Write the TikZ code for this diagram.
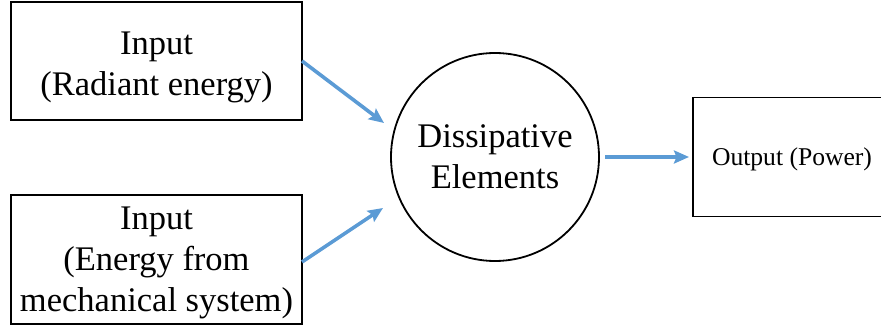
\documentclass[tikz,border=0pt]{standalone}
\usepackage{fontspec}
\setmainfont{Liberation Serif}
\usetikzlibrary{arrows.meta,positioning}
\definecolor{flowblue}{RGB}{91,155,213}
\tikzset{
  block/.style={draw=black, line width=1.8pt, rectangle, inner sep=0pt, outer sep=0pt},
  lbl/.style={align=center, inner sep=0pt, font=\fontsize{34.5pt}{41pt}\selectfont},
  smalllbl/.style={inner sep=0pt, font=\fontsize{25.6pt}{30pt}\selectfont},
  flow/.style={draw=flowblue, line width=3.6pt,
    -{Stealth[length=15pt, width=13pt, inset=2.5pt]}}
}
\begin{document}
\begin{tikzpicture}[x=1pt, y=1pt]
  \clip (0,0) rectangle (881,326);
  \fill[white] (0,0) rectangle (881,326);

  % input boxes
  \node[block, minimum width=291pt, minimum height=118pt] (radiant) at (156.5,265) {};
  \node[lbl] (radianttext) at ([yshift=-6pt]radiant.center) {Input\\(Radiant energy)};

  \node[block, minimum width=291pt, minimum height=129pt] (mech) at (156.5,66.5) {};
  \node[lbl] (mechtext) at ([yshift=-3.5pt]mech.center) {Input\\(Energy from\\mechanical system)};

  % dissipative element
  \node[circle, draw=black, line width=1.8pt, minimum size=208pt, inner sep=0pt, outer sep=0pt,
        lbl] (diss) at (495,169) {Dissipative\\Elements};

  % output box (runs past the right edge)
  \node[block, minimum width=198pt, minimum height=119pt] (out) at (792,169) {};
  \node[smalllbl] (outtext) at ([yshift=-2pt]out.center) {Output (Power)};

  % arrow tips
  \coordinate (tipA) at (384,203);
  \coordinate (tipB) at (383,118);

  \draw[flow] (radiant.east) -- (tipA);
  \draw[flow] ([yshift=-2.5pt]mech.east) -- (tipB);
  \draw[flow, shorten <=6pt, shorten >=4pt] (diss.east) -- (out.west);
\end{tikzpicture}
\end{document}
